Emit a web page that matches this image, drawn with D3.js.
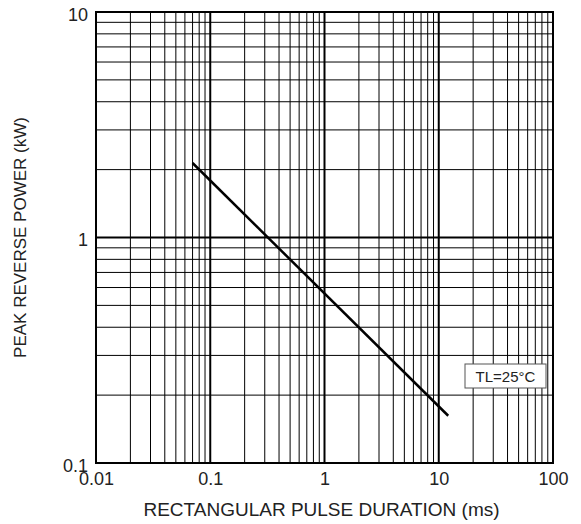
<!DOCTYPE html>
<html>
<head>
<meta charset="utf-8">
<script src="https://cdn.jsdelivr.net/npm/d3@7"></script>
<style>
  html, body { margin: 0; padding: 0; background: #fff; }
  svg { display: block; }
  text { font-family: "Liberation Sans", Arial, sans-serif; fill: #222; }
</style>
</head>
<body>
<svg id="chart" width="581" height="524"></svg>
<script>
// Data
const durationMs = [0.07, 12.1];      // rectangular pulse duration (ms)
const peakPowerKW = [2.14, 0.162];    // peak reverse power (kW)
const xTickLabels = ["0.01", "0.1", "1", "10", "100"];
const yTickLabels = ["0.1", "1", "10"];
const xTitle = "RECTANGULAR PULSE DURATION (ms)";
const yTitle = "PEAK REVERSE POWER (kW)";
const legendLabel = "TL=25°C";

const svg = d3.select("#chart");
const margin = { left: 96, top: 12, right: 28, bottom: 61 };
const W = 581, H = 524;
const x = d3.scaleLog().domain([0.01, 100]).range([margin.left, W - margin.right]);
const y = d3.scaleLog().domain([0.1, 10]).range([H - margin.bottom, margin.top]);

// Minor grid lines
const xMinor = [];
for (let e = -2; e < 2; e++) for (let m = 2; m <= 9; m++) xMinor.push(m * Math.pow(10, e));
const yMinor = [];
for (let e = -1; e < 1; e++) for (let m = 2; m <= 9; m++) yMinor.push(m * Math.pow(10, e));

const g = svg.append("g");
g.selectAll("line.xminor").data(xMinor).join("line")
  .attr("x1", d => x(d)).attr("x2", d => x(d))
  .attr("y1", y(0.1)).attr("y2", y(10))
  .attr("stroke", "#000").attr("stroke-width", 1);
g.selectAll("line.yminor").data(yMinor).join("line")
  .attr("y1", d => y(d)).attr("y2", d => y(d))
  .attr("x1", x(0.01)).attr("x2", x(100))
  .attr("stroke", "#000").attr("stroke-width", 1);

// Major grid lines
const xMajor = xTickLabels.map(Number);
const yMajor = yTickLabels.map(Number);
g.selectAll("line.xmajor").data(xMajor).join("line")
  .attr("x1", d => x(d)).attr("x2", d => x(d))
  .attr("y1", y(0.1)).attr("y2", y(10))
  .attr("stroke", "#000").attr("stroke-width", 2);
g.selectAll("line.ymajor").data(yMajor).join("line")
  .attr("y1", d => y(d)).attr("y2", d => y(d))
  .attr("x1", x(0.01)).attr("x2", x(100))
  .attr("stroke", "#000").attr("stroke-width", 2);

// Frame
g.append("rect")
  .attr("x", x(0.01)).attr("y", y(10))
  .attr("width", x(100) - x(0.01)).attr("height", y(0.1) - y(10))
  .attr("fill", "none").attr("stroke", "#000").attr("stroke-width", 2);

// Axes labels via d3 axes (no lines)
const xAxis = d3.axisBottom(x).tickValues(xMajor).tickFormat((d, i) => xTickLabels[i]).tickSize(0).tickPadding(9);
const xa = svg.append("g").attr("transform", `translate(0,${y(0.1)})`).call(xAxis);
xa.select(".domain").remove();
xa.selectAll("text").attr("font-size", 18).attr("fill", "#222").attr("font-family", "Liberation Sans, Arial, sans-serif");

const yAxis = d3.axisLeft(y).tickValues(yMajor).tickFormat((d, i) => yTickLabels[i]).tickSize(0).tickPadding(8);
const ya = svg.append("g").attr("transform", `translate(${x(0.01)},0)`).call(yAxis);
ya.select(".domain").remove();
ya.selectAll("text").attr("font-size", 18).attr("fill", "#222")
  .attr("dy", null).attr("y", 8)
  .attr("font-family", "Liberation Sans, Arial, sans-serif");

// Curve
const line = d3.line().x(d => x(d[0])).y(d => y(d[1]));
svg.append("path")
  .datum(durationMs.map((d, i) => [d, peakPowerKW[i]]))
  .attr("d", line)
  .attr("fill", "none").attr("stroke", "#000").attr("stroke-width", 2.5);

// Legend box
const lg = svg.append("g").attr("transform", "translate(465,364)");
lg.append("rect").attr("width", 81).attr("height", 24)
  .attr("fill", "#fff").attr("stroke", "#555").attr("stroke-width", 1);
lg.append("text").attr("x", 40.5).attr("y", 17.5).attr("text-anchor", "middle")
  .attr("font-size", 15).text(legendLabel);

// Titles
svg.append("text").attr("x", (x(0.01) + x(100)) / 2 - 3).attr("y", 516)
  .attr("text-anchor", "middle").attr("font-size", 19).text(xTitle);
svg.append("text")
  .attr("transform", `translate(26,${(y(0.1) + y(10)) / 2}) rotate(-90)`)
  .attr("text-anchor", "middle").attr("font-size", 17).text(yTitle);
</script>
</body>
</html>
